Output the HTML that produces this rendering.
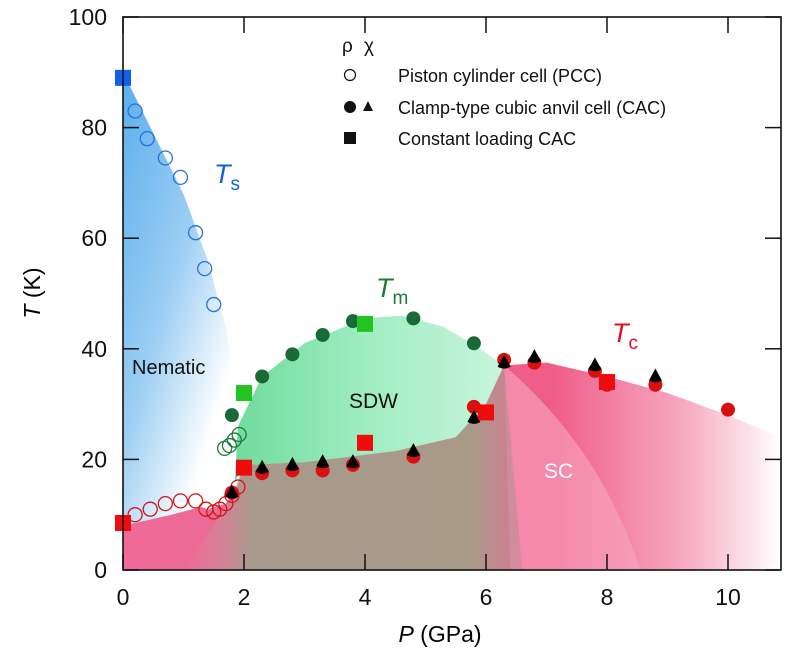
<!DOCTYPE html>
<html><head><meta charset="utf-8"><style>
body{margin:0;background:#fff}
svg text{font-family:"Liberation Sans",sans-serif}
</style></head><body>
<svg id="chart" width="788" height="658" viewBox="0 0 788 658">
<defs>
<linearGradient id="gBlue" x1="0" y1="0" x2="0.8" y2="0.9"><stop offset="0" stop-color="#5aaeee"/><stop offset="0.5" stop-color="#9acdf3"/><stop offset="0.9" stop-color="#ffffff"/></linearGradient>
<linearGradient id="gGreen" x1="0" y1="0" x2="1" y2="0"><stop offset="0" stop-color="#6fdc9c"/><stop offset="0.5" stop-color="#a0edc2"/><stop offset="1" stop-color="#c8f5dc"/></linearGradient>
<linearGradient id="gPink" x1="0" y1="0" x2="1" y2="0"><stop offset="0" stop-color="#f06a98"/><stop offset="0.3" stop-color="#ea6a92"/><stop offset="0.65" stop-color="#ef5c88"/><stop offset="0.85" stop-color="#f7a8c0"/><stop offset="1" stop-color="#ffffff"/></linearGradient>
<linearGradient id="gOver" x1="0" y1="0" x2="1" y2="0"><stop offset="0" stop-color="#d88aa0" stop-opacity="0"/><stop offset="0.2" stop-color="#a89a8c"/><stop offset="0.85" stop-color="#a99a88"/><stop offset="1" stop-color="#c48a98" stop-opacity="0.6"/></linearGradient>
</defs>
<g id="regions"></g>
<g id="marks"></g>
<g id="axes"></g>
</svg>
<script>
const NS='http://www.w3.org/2000/svg';
const X0=123,X1=781,Y0=570,Y1=17;
const sx=p=>X0+p*60.5, sy=t=>Y0-(t/100)*(Y0-Y1);
function el(tag,attrs,parent){const e=document.createElementNS(NS,tag);for(const k in attrs)e.setAttribute(k,attrs[k]);parent.appendChild(e);return e;}
const R=document.getElementById('regions'),M=document.getElementById('marks'),A=document.getElementById('axes');

// phase boundaries (data units: GPa, K)
const nematicP=[0,0.5,1.0,1.4,1.7,1.85,1.95,2.0,1.5,0.8,0];
const nematicT=[90,79,68,56,44,34,26,18,12,10,8];
const sdwP=[1.9,2.3,3,4,4.6,5.3,5.9,6.3,6.0,5.5,4.5,3,2,1.85];
const sdwT=[26,35,41,45.5,46,44,40,37,30,24,21.5,19.5,19,16];
const scTopP=[0,0.5,1,1.4,1.7,1.9,2.0,3,4.5,5.5,6.0,6.3,7,8,9,10,10.88];
const scTopT=[8.5,11,12.5,11,12,15,19,19.5,21.5,24,30,37,37.5,35,32,28,24];
const ovP=[1.8,2.0,3,4.5,5.5,6.0,6.3,6.6];
const ovT=[13,19,19.5,21.5,24,30,37,0];

const blueOpenP=[0.2,0.4,0.7,0.95,1.2,1.35,1.5];
const blueOpenT=[83,78,74.5,71,61,54.5,48];
const blueSqP=[0];const blueSqT=[89];
const greenCircP=[1.8,2.3,2.8,3.3,3.8,4.8,5.8];
const greenCircT=[28,35,39,42.5,45,45.5,41];
const greenOpenP=[1.68,1.76,1.84,1.92];
const greenOpenT=[22,22.5,23.5,24.5];
const greenSqP=[2,4];const greenSqT=[32,44.5];
const redOpenP=[0.2,0.45,0.7,0.95,1.2,1.37,1.5,1.6,1.7,1.8,1.9];
const redOpenT=[10,11,12,12.5,12.5,11,10.5,11,12,13.5,15];
const redCircP=[1.8,2.3,2.8,3.3,3.8,4.8,5.8,6.3,6.8,7.8,8.0,8.8,10];
const redCircT=[14,17.5,18,18,19,20.5,29.5,38,37.5,36,33.5,33.5,29];
const triP=[1.8,2.3,2.8,3.3,3.8,4.8,5.8,6.3,6.8,7.8,8.8];
const triT=[14,18.5,19,19.5,19.5,21.5,27.5,37.5,38.5,37,35];
const redSqP=[0,2,4,6,8];const redSqT=[8.5,18.5,23,28.5,34];
const xTicks=[0,2,4,6,8,10];const yTicks=[0,20,40,60,80,100];

function poly(P,T){return P.map((p,i)=>(i?'L':'M')+sx(p).toFixed(1)+','+sy(T[i]).toFixed(1)).join(' ');}
let e;
e=el('path',{d:poly(scTopP,scTopT)+' L'+X1+','+Y0+' L'+X0+','+Y0+' Z',fill:'url(#gPink)'},R);

e=el('path',{d:'M'+sx(6.3)+','+sy(37)+' Q'+sx(7.9)+','+sy(22)+' '+sx(8.55)+','+Y0+' L'+sx(6.4)+','+Y0+' Z',fill:'#f8a6c2',opacity:0.6},R);

e=el('path',{d:poly(nematicP,nematicT)+' Z',fill:'url(#gBlue)'},R);

e=el('path',{d:poly(sdwP,sdwT)+' Z',fill:'url(#gGreen)'},R);

e=el('path',{d:poly(ovP,ovT)+' L'+sx(1.0)+','+Y0+' Z',fill:'url(#gOver)'},R);


function circ(P,T,name,attrs){P.forEach((p,i)=>{const c=el('circle',Object.assign({cx:sx(p),cy:sy(T[i]),r:7},attrs),M);});}
function sq(P,T,name,fill){P.forEach((p,i)=>{const c=el('rect',{x:sx(p)-8,y:sy(T[i])-8,width:16,height:16,fill:fill},M);});}
circ(blueOpenP,blueOpenT,'ts-pcc-point',{fill:'none',stroke:'#2c6fd6','stroke-width':1.3});
sq(blueSqP,blueSqT,'ts-cac-square','#1060e8');
circ(greenOpenP,greenOpenT,'tm-pcc-point',{fill:'none',stroke:'#1f7a3a','stroke-width':1.3});
circ(greenCircP,greenCircT,'tm-cac-point',{fill:'#1a6a38'});
sq(greenSqP,greenSqT,'tm-square','#22c422');
circ(redOpenP,redOpenT,'tc-pcc-point',{fill:'none',stroke:'#d01818','stroke-width':1.3});
circ(redCircP,redCircT,'tc-cac-point',{fill:'#d81010'});
triP.forEach((p,i)=>{const x=sx(p),y=sy(triT[i]);const t=el('path',{d:`M${x},${y-8} L${x+6.5},${y+4} Q${x},${y+8} ${x-6.5},${y+4} Z`,fill:'#000'},M);

});
sq(redSqP,redSqT,'tc-square','#ee0d0d');

e=el('rect',{x:X0,y:Y1,width:X1-X0,height:Y0-Y1,fill:'none',stroke:'#111','stroke-width':1.6},A);

xTicks.forEach(v=>{const x=sx(v);el('line',{x1:x,x2:x,y1:Y0,y2:Y0-16,stroke:'#111','stroke-width':1.5},A);el('line',{x1:x,x2:x,y1:Y1,y2:Y1+16,stroke:'#111','stroke-width':1.5},A);
const t=el('text',{x:x,y:605,'font-size':23,'text-anchor':'middle',fill:'#111'},A);t.textContent=v;

});
yTicks.forEach(v=>{const y=sy(v);el('line',{x1:X0,x2:X0+16,y1:y,y2:y,stroke:'#111','stroke-width':1.5},A);el('line',{x1:X1,x2:X1-16,y1:y,y2:y,stroke:'#111','stroke-width':1.5},A);
const t=el('text',{x:107,y:y+8,'font-size':23,'text-anchor':'end',fill:'#111'},A);t.textContent=v;

});
</script>
<svg width="788" height="658" style="position:absolute;left:0;top:0">
<text x="440" y="642" font-size="23" text-anchor="middle" font-family="Liberation Sans"><tspan font-style="italic">P</tspan> (GPa)</text>
<text transform="translate(40,293) rotate(-90)" font-size="23" text-anchor="middle" font-family="Liberation Sans"><tspan font-style="italic">T</tspan> (K)</text>
<text x="214" y="183" font-size="27" fill="#1060e0" font-family="Liberation Sans"><tspan font-style="italic">T</tspan><tspan font-size="19" dy="7">s</tspan></text>
<text x="376" y="297" font-size="27" fill="#1a7a3a" font-family="Liberation Sans"><tspan font-style="italic">T</tspan><tspan font-size="19" dy="7">m</tspan></text>
<text x="612" y="342" font-size="27" fill="#e01020" font-family="Liberation Sans"><tspan font-style="italic">T</tspan><tspan font-size="19" dy="7">c</tspan></text>
<text x="132" y="374" font-size="20" fill="#111" font-family="Liberation Sans">Nematic</text>
<text x="349" y="408" font-size="21" fill="#111" font-family="Liberation Sans">SDW</text>
<text x="544" y="478" font-size="21" fill="#fff" font-family="Liberation Sans">SC</text>
<g font-family="Liberation Sans" font-size="18" fill="#111">
<text x="342" y="52" font-size="19">ρ</text><text x="364" y="52" font-size="19">χ</text>
<circle cx="350" cy="75" r="5.5" fill="none" stroke="#111" stroke-width="1.2"/>
<text x="398" y="82">Piston cylinder cell (PCC)</text>
<circle cx="350" cy="107" r="6" fill="#111"/>
<path d="M368,101 L373,111 L363,111 Z" fill="#111"/>
<text x="398" y="114">Clamp-type cubic anvil cell (CAC)</text>
<rect x="344" y="132" width="12" height="12" fill="#111"/>
<text x="398" y="145">Constant loading CAC</text>
</g>
</svg>
</body></html>
